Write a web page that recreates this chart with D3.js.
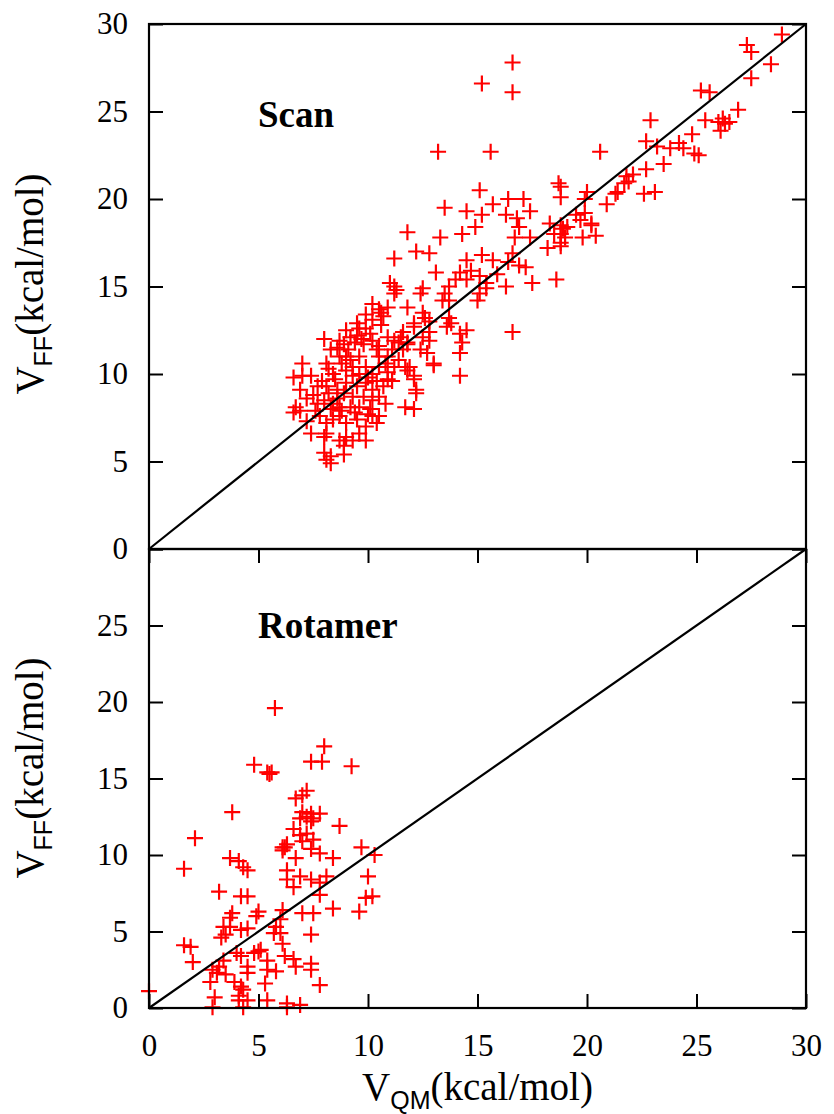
<!DOCTYPE html>
<html>
<head>
<meta charset="utf-8">
<script src="https://cdn.jsdelivr.net/npm/d3@7"></script>
<style>
  body { margin: 0; background: #fff; }
  svg { display: block; }
</style>
</head>
<body>
<svg></svg>
<script>
// Scan panel (QM vs FF energies, kcal/mol)
const scanQM = [28.9,27.3,27.5,28.4,27.5,25.2,25.6,26.9,26.2,26.0,26.3,26.5,26.1,25.4,22.9,24.8,22.7,23.2,23.8,24.2,24.4,24.9,25.1,20.6,23.5,22.7,21.8,22.1,21.7,21.9,21.4,21.3,22.6,23.1,20.0,18.8,18.8,20.9,19.5,19.7,19.9,20.2,20.4,19.8,18.9,19.0,18.8,
  16.6,15.2,16.6,13.2,15.6,18.7,15.1,19.9,13.5,14.5,15.7,16.4,17.1,17.4,16.3,16.8,16.9,16.7,17.4,15.2,14.9,14.3,13.3,11.8,18.3,18.8,18.5,18.8,18.8,18.2,19.1,20.2,12.2,12.8,11.2,14.5,15.2,15.7,16.6,16.4,16.9,17.2,13.1,18.6,17.5,16.3,14.2,14.7,15.1,15.4,14.5,14.0,13.7,13.5,13.4,13.7,15.1,15.0,15.4,15.9,11.2,11.0,11.3,12.5,10.5,10.9,10.7,11.8,12.5,12.6,12.8,13.7,13.6,13.8,14.2,14.5,14.3,14.2,16.6,12.1,11.5,11.2,10.9,10.5,11.8,12.5,12.8,12.4,13.0,14.2,11.7,11.1,12.1,12.2,
  10.2,11.2,12.4,9.9,10.2,10.6,9.5,9.9,12.1,12.8,9.0,9.2,9.5,9.8,8.9,10.1,10.2,11.8,11.6,11.1,10.9,11.4,11.9,11.2,10.9,12.1,12.2,11.8,13.0,12.7,11.7,12.1,8.7,9.2,9.6,8.4,9.0,9.3,9.6,9.9,10.2,10.5,8.1,7.4,7.0,6.9,7.7,8.1,8.6,6.7,6.6,6.9,9.0,9.5,9.9,10.2,10.7,10.9,8.9,9.3,9.8,10.2,10.5,7.7,8.0,8.4,8.3,8.7,9.2,9.6,10.1,7.8,8.1,8.7,9.0,9.5,9.9,10.4,10.5,7.4,8.0,8.7,9.0,9.9,9.6,8.0,8.3,8.3,8.9,8.1,8.7,8.6,10.5,10.4,8.4,10.2,8.1,8.9,9.3,
  7.5,7.9,8.2,8.5,8.8,9.1,9.4,9.7,9.3,8.6,8.2,7.2,7.6,8.8,9.4,10.0,10.4,10.8,11.4,11.6,9.0,8.3,8.0,9.6,10.6,7.0,6.6,7.2,10.0,10.8];
const scanFF = [29.4,28.8,28.4,27.7,26.9,26.2,26.1,25.1,24.6,24.4,24.3,24.4,23.9,24.5,24.5,23.7,23.3,23.0,22.9,23.2,22.9,22.6,22.5,22.7,22.0,21.7,21.3,21.4,20.9,21.0,20.4,20.3,20.3,20.4,20.4,20.7,20.1,19.7,19.1,18.8,19.2,18.5,17.9,17.8,18.3,17.8,17.3,
  27.8,26.6,26.1,22.7,22.7,20.9,20.5,20.0,19.5,19.3,19.7,20.0,20.0,19.3,19.1,18.9,18.4,17.8,17.8,19.1,18.4,18.0,17.8,18.1,18.6,18.5,18.0,18.0,17.5,17.2,18.4,18.6,17.0,16.9,16.6,16.5,16.8,16.5,16.9,16.4,16.2,16.1,15.8,15.4,15.2,15.0,15.8,15.9,15.6,15.2,15.4,15.4,15.0,14.6,14.2,14.2,14.6,14.2,14.9,15.7,15.0,15.2,14.8,14.9,13.7,13.8,13.3,13.8,13.5,13.2,13.0,13.2,12.7,12.9,12.3,12.5,11.8,11.2,12.4,12.7,12.1,11.9,12.1,11.6,11.8,12.1,12.4,11.4,10.5,9.9,10.4,9.6,9.7,8.9,
  14.0,14.6,14.6,13.4,13.1,13.5,12.9,12.6,12.9,11.9,12.5,12.1,12.2,11.7,11.7,12.3,11.9,11.7,11.4,11.4,11.0,10.8,10.4,10.4,10.1,9.9,9.1,10.2,10.6,11.2,8.1,8.0,11.0,10.8,11.0,10.0,10.2,10.4,10.0,10.4,10.0,10.4,10.6,9.9,9.9,9.1,9.3,9.3,9.1,8.1,7.8,7.9,9.5,9.3,9.5,9.1,9.3,9.7,8.9,8.7,8.7,8.5,8.7,8.3,8.5,8.3,8.0,8.1,8.1,8.1,8.0,7.6,7.2,7.6,7.2,7.4,7.0,7.2,7.6,6.6,6.4,6.2,6.4,6.2,6.6,5.5,5.3,4.9,5.4,5.1,11.9,11.5,11.0,11.4,7.4,7.6,6.6,5.9,6.2,
  8.8,9.6,10.3,9.7,10.6,11.4,11.8,12.0,9.9,8.6,8.9,8.6,7.9,7.9,7.8,9.8,9.6,10.6,11.8,12.4,11.0,11.4,12.0,12.6,12.8,10.6,9.8,7.3,7.7,8.3];

// Rotamer panel
const rotQM = [5.75,8.0,7.4,7.9,4.8,5.4,5.5,5.6,9.25,7.2,7.0,6.7,3.8,7.0,7.4,7.2,7.8,6.9,7.4,7.5,8.7,6.6,6.9,7.2,7.5,7.0,2.1,6.1,6.2,6.1,6.3,7.4,7.8,8.4,6.7,9.7,10.3,3.7,4.1,4.3,4.5,1.6,6.3,6.9,7.4,6.3,8.1,7.8,10.0,6.6,7.8,3.2,4.2,4.5,9.9,10.2,9.6,8.4,7.0,7.5,6.1,6.0,5.0,4.9,3.8,3.7,3.4,3.7,4.2,4.5,3.5,3.3,5.8,6.0,5.7,6.1,7.4,1.6,1.9,4.0,4.2,3.4,3.2,5.0,4.8,5.1,6.2,6.6,6.7,7.4,7.4,2.0,4.5,5.4,5.4,5.8,4.5,2.9,3.1,3.5,2.8,3.9,4.2,4.1,5.3,4.3,7.8,3.0,4.1,4.5,5.4,6.3,6.9,2.9,4.3,6.3,0.0];
const rotFF = [19.6,17.1,16.1,16.1,15.9,15.4,15.3,15.4,15.8,14.2,13.9,13.7,12.8,12.8,12.7,12.5,12.7,12.4,12.2,12.4,11.9,11.7,11.3,11.4,11.0,10.9,11.1,10.5,10.5,10.3,10.7,10.4,10.1,9.8,9.8,10.5,10.0,9.8,9.6,9.2,9.0,9.1,9.0,8.6,8.4,8.4,8.6,8.2,8.6,7.9,7.4,7.6,7.3,7.3,7.2,7.3,6.3,6.5,6.2,6.2,6.4,5.8,6.3,6.0,6.2,5.9,5.3,5.3,5.1,5.2,4.8,4.6,5.3,4.9,4.9,4.2,4.8,4.1,4.0,3.6,3.4,3.1,2.7,3.7,3.6,3.8,3.4,3.2,2.7,2.9,2.5,3.0,2.7,3.1,2.5,2.4,2.3,2.5,2.3,2.2,1.7,1.7,1.4,0.8,1.6,1.2,1.5,0.7,0.5,0.5,0.5,0.3,0.2,0.05,0.05,0.05,1.1];

const ticks = [0, 5, 10, 15, 20, 25, 30];
const panelTitles = ["Scan", "Rotamer"];

const W = 834, H = 1114;
const left = 149, right = 806;
const serif = "'Liberation Serif', 'Times New Roman', serif",
      sans = "'Liberation Sans', Arial, sans-serif";

const svg = d3.select("svg").attr("width", W).attr("height", H);

const x = d3.scaleLinear().domain([0, 30]).range([left, right]);
const yTop = d3.scaleLinear().domain([0, 30]).range([549, 24]);
const yBot = d3.scaleLinear().domain([0, 30]).range([1008, 549]);

const panels = [
  { y: yTop, qm: scanQM, ff: scanFF, title: panelTitles[0], titleY: 127, labels: ticks, xTicks: false, labelY: 284 },
  { y: yBot, qm: rotQM, ff: rotFF, title: panelTitles[1], titleY: 638, labels: ticks.slice(0, 6), xTicks: true, labelY: 768 }
];

function plus(g, px, py) {
  g.append("path")
    .attr("d", `M${px - 8},${py}H${px + 8}M${px},${py - 8}V${py + 8}`);
}

function styleAxis(a) {
  a.select(".domain").remove();
  a.selectAll("line").attr("stroke", "#000").attr("stroke-width", 2);
  a.selectAll("text").attr("font-family", serif).attr("font-size", 31).attr("fill", "#000");
}

function vLabel(sel, sub) {
  sel.append("tspan").text("V");
  sel.append("tspan").attr("font-family", sans).attr("font-size", 25).attr("dy", 9).text(sub);
  sel.append("tspan").attr("dy", -9).text("(kcal/mol)");
}

panels.forEach(function(p) {
  const [y0, y1] = p.y.range();

  // points
  const pts = svg.append("g")
    .attr("stroke", "#ff0000")
    .attr("stroke-width", 2.2)
    .attr("fill", "none");
  p.qm.forEach((v, i) => plus(pts, x(v), p.y(p.ff[i])));

  // y = x line
  svg.append("path")
    .datum([0, 30])
    .attr("fill", "none")
    .attr("stroke", "#000")
    .attr("stroke-width", 2.2)
    .attr("d", d3.line().x(d => x(d)).y(d => p.y(d)));

  // left axis with labels, right axis mirror ticks
  const ax = svg.append("g")
    .attr("transform", `translate(${left},0)`)
    .call(d3.axisLeft(p.y).tickValues(ticks).tickSize(-14).tickPadding(21)
      .tickFormat(d => p.labels.includes(d) ? d : ""));
  const ar = svg.append("g")
    .attr("transform", `translate(${right},0)`)
    .call(d3.axisRight(p.y).tickValues(ticks).tickSize(-14).tickFormat(""));
  styleAxis(ax);
  styleAxis(ar);

  if (p.xTicks) {
    const ab = svg.append("g")
      .attr("transform", `translate(0,${y0})`)
      .call(d3.axisBottom(x).tickValues(ticks).tickSize(-14).tickPadding(26));
    const at = svg.append("g")
      .attr("transform", `translate(0,${y1})`)
      .call(d3.axisTop(x).tickValues(ticks).tickSize(-14).tickFormat(""));
    styleAxis(ab);
    styleAxis(at);
  }

  // border
  svg.append("rect")
    .attr("x", left).attr("y", y1)
    .attr("width", right - left).attr("height", y0 - y1)
    .attr("fill", "none")
    .attr("stroke", "#000")
    .attr("stroke-width", 2.2);

  // panel title
  svg.append("text")
    .attr("x", 258).attr("y", p.titleY)
    .attr("font-family", serif).attr("font-weight", "bold")
    .attr("font-size", 37)
    .text(p.title);

  // y label
  const yl = svg.append("text")
    .attr("transform", `translate(43,${p.labelY}) rotate(-90)`)
    .attr("text-anchor", "middle")
    .attr("font-family", serif).attr("font-size", 39);
  vLabel(yl, "FF");
});

// x label
const xl = svg.append("text")
  .attr("x", (left + right) / 2).attr("y", 1100)
  .attr("text-anchor", "middle")
  .attr("font-family", serif).attr("font-size", 39);
vLabel(xl, "QM");
</script>
</body>
</html>
